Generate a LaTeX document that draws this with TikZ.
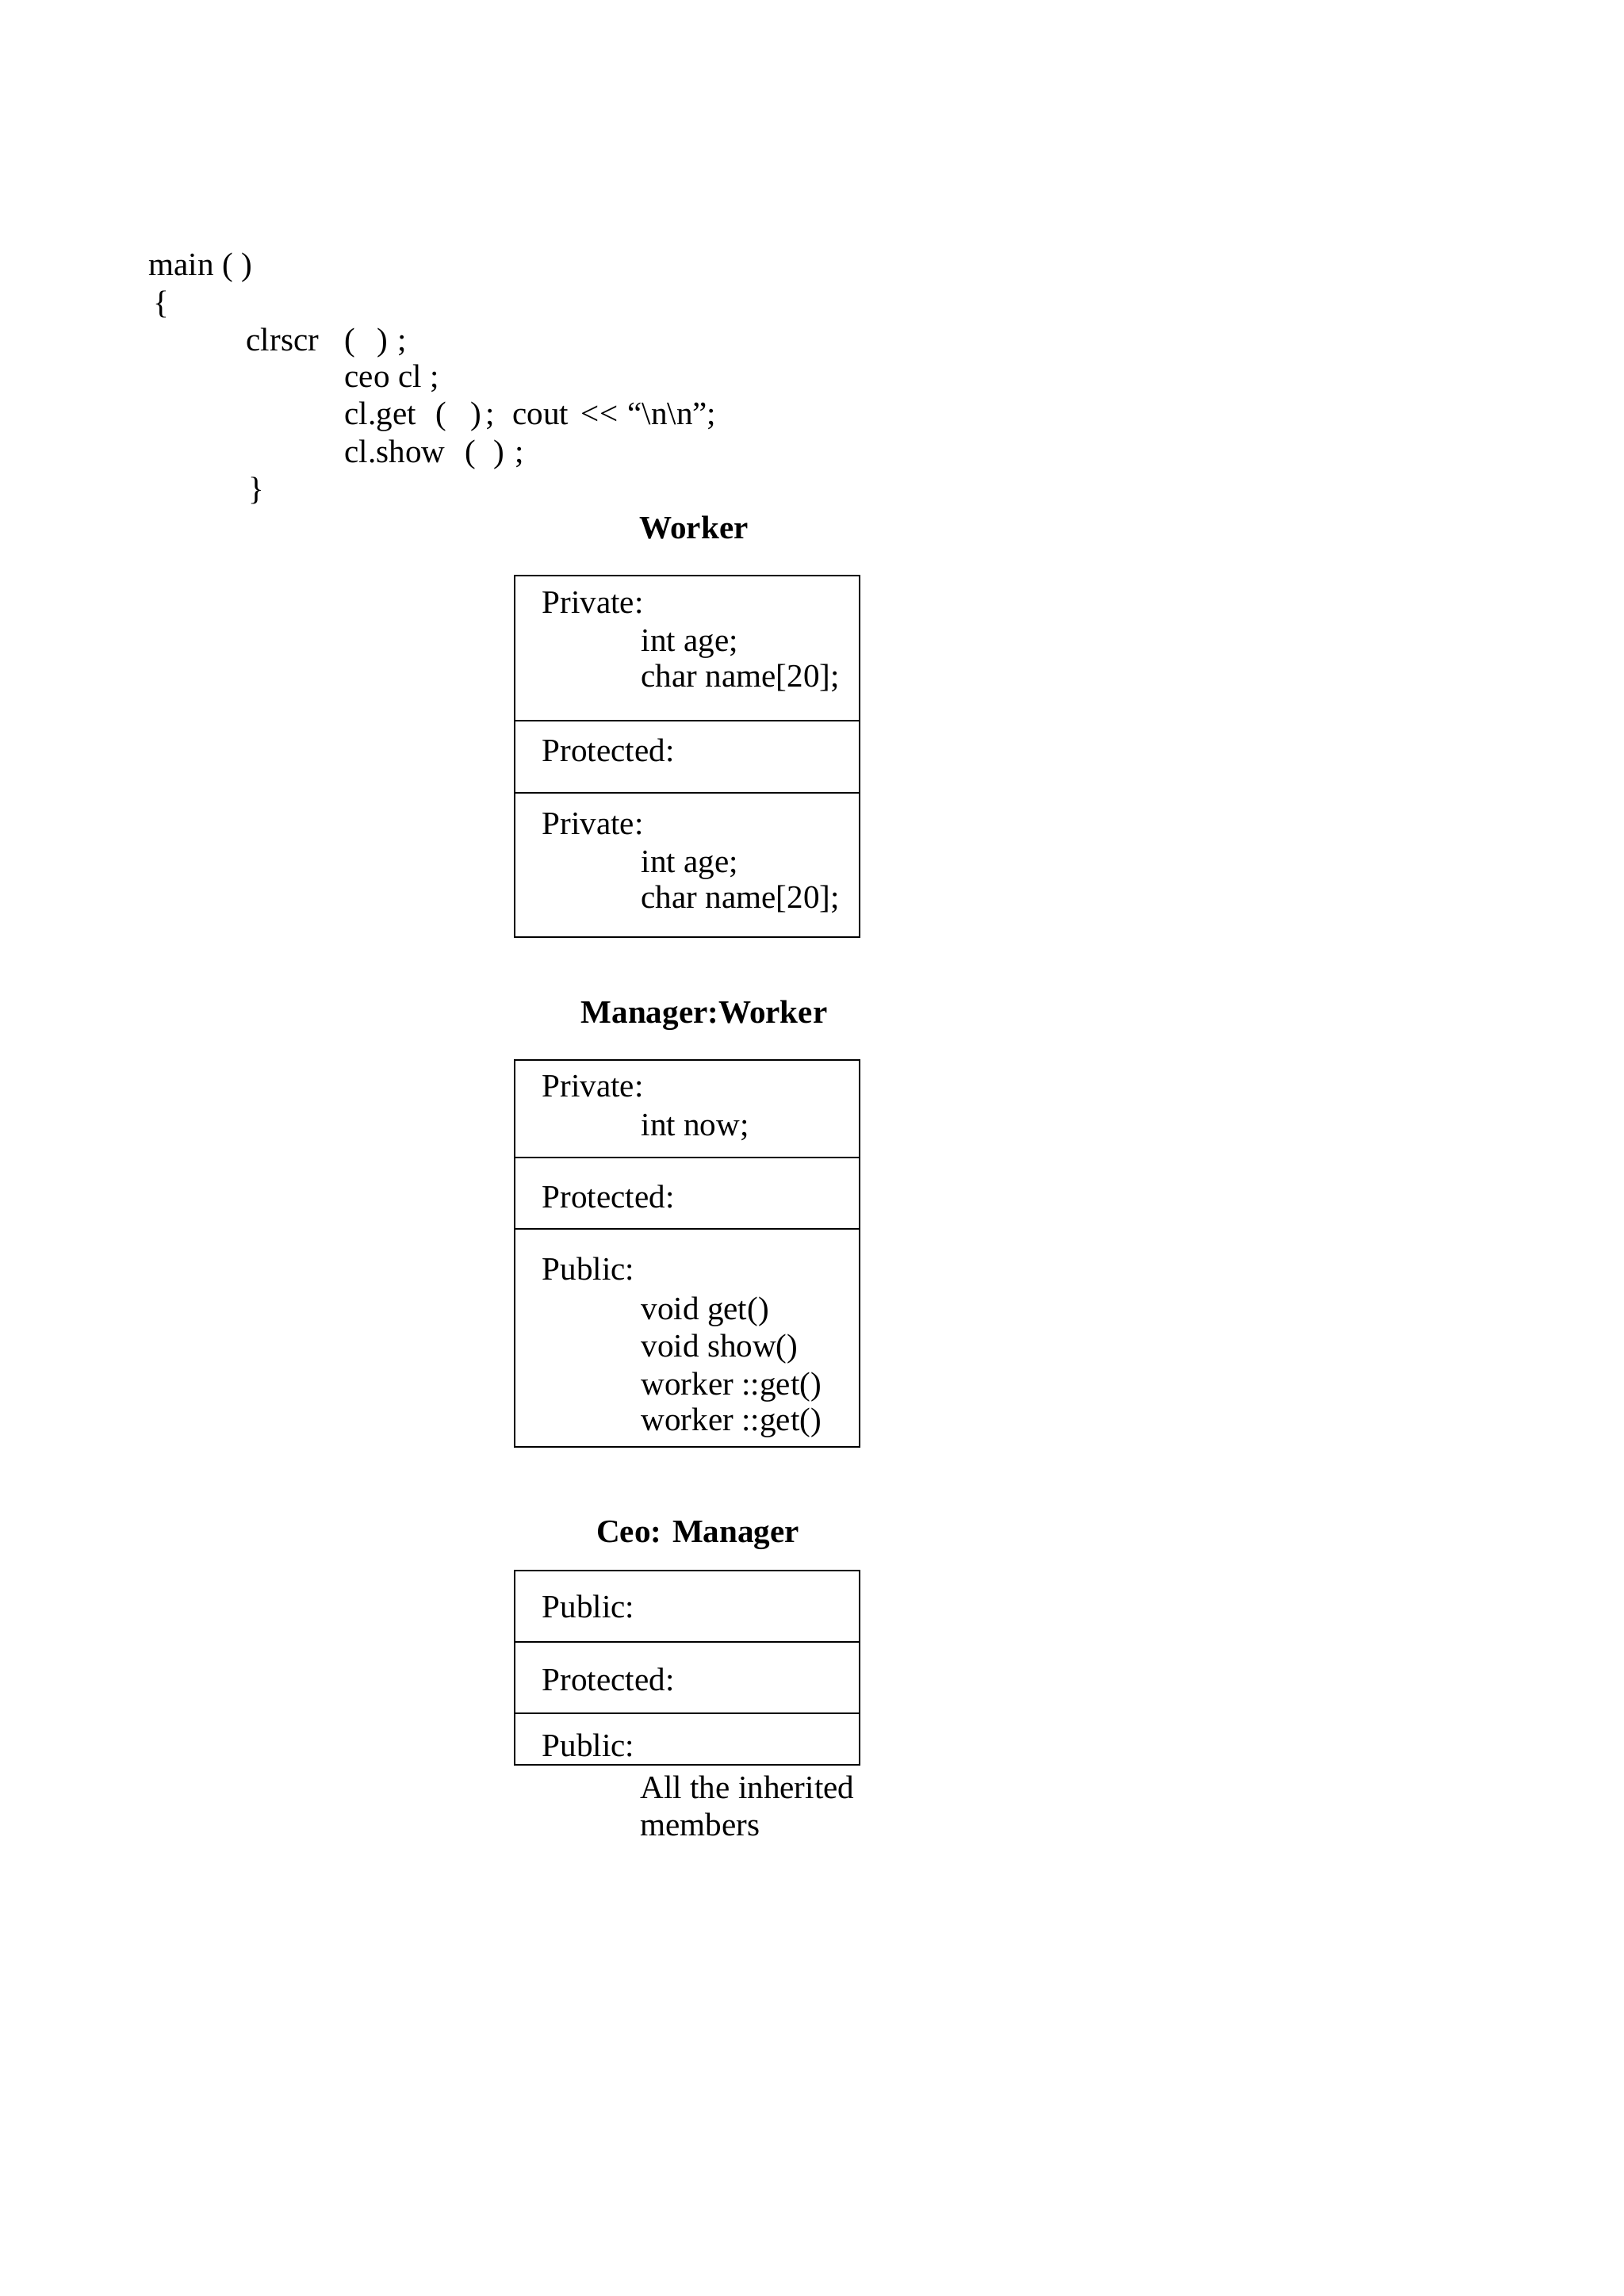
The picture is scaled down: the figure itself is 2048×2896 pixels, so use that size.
\documentclass[tikz,border=0pt]{standalone}
\usepackage{fontspec}
\setmainfont{Liberation Serif}
\usepackage{tikz}
\usetikzlibrary{positioning}

\begin{document}
\begin{tikzpicture}[
    x=0.01025cm, y=-0.01025cm,
    font=\fontsize{12pt}{14pt}\selectfont,
    code/.style={anchor=base west, inner sep=0pt},
    member/.style={anchor=base west, inner sep=0pt},
    title/.style={anchor=base, inner sep=0pt, font=\fontsize{12pt}{14pt}\selectfont\bfseries},
    boxline/.style={draw, line width=0.8pt}
]
\useasboundingbox (0,0) rectangle (2048,2896);

% Program listing
\node[code] (lmain) at (187,347) {main ( )};
\node[code] (lopen) at (193,395) {\{};
\node[code] (lclr) at (310,442) {clrscr\hspace{9.5pt}(\hspace{7.8pt})\hspace{3.8pt};};
\node[code] (lceo) at (434,488) {ceo cl ;};
\node[code] (lget) at (434,535) {cl.get\hspace{7.3pt}(\hspace{8.7pt})\hspace{1.7pt};\hspace{6.4pt}cout\hspace{4.6pt}\mbox{<}\mbox{<}\hspace{3.5pt}“\textbackslash n\textbackslash n”;};
\node[code] (lshow) at (434,583) {cl.show\hspace{7.3pt}(\hspace{6.4pt})\hspace{4pt};};
\node[code] (lclose) at (313,630) {\}};

% Worker
\node[title] (tworker) at (875,679) {Worker};
\draw[boxline] (649,726) rectangle (1084,1182);
\draw[boxline] (649,909) -- (1084,909);
\draw[boxline] (649,1000) -- (1084,1000);
\node[member] (wpriv) at (683,773) {Private:};
\node[member] (wage) at (808,821) {int age;};
\node[member] (wname) at (808,866) {char name[20];};
\node[member] (wprot) at (683,960) {Protected:};
\node[member] (wpriv2) at (683,1052) {Private:};
\node[member] (wage2) at (808,1100) {int age;};
\node[member] (wname2) at (808,1145) {char name[20];};

% Manager
\node[title] (tmanager) at (888,1290) {Manager:Worker};
\draw[boxline] (649,1337) rectangle (1084,1825);
\draw[boxline] (649,1460) -- (1084,1460);
\draw[boxline] (649,1550) -- (1084,1550);
\node[member] (mpriv) at (683,1383) {Private:};
\node[member] (mnow) at (808,1432) {int now;};
\node[member] (mprot) at (683,1523) {Protected:};
\node[member] (mpub) at (683,1614) {Public:};
\node[member] (mget) at (808,1664) {void get()};
\node[member] (mshow) at (808,1711) {void show()};
\node[member] (mwget) at (808,1759) {worker ::get()};
\node[member] (mwget2) at (808,1804) {worker ::get()};

% Ceo
\node[title] (tceo) at (880,1945) {Ceo: Manager};
\draw[boxline] (649,1981) rectangle (1084,2226);
\draw[boxline] (649,2071) -- (1084,2071);
\draw[boxline] (649,2161) -- (1084,2161);
\node[member] (cpub) at (683,2040) {Public:};
\node[member] (cprot) at (683,2132) {Protected:};
\node[member] (cpub2) at (683,2215) {Public:};
\node[member] (call) at (807,2268) {All the inherited};
\node[member] (cmem) at (807,2315) {members};

\end{tikzpicture}
\end{document}
